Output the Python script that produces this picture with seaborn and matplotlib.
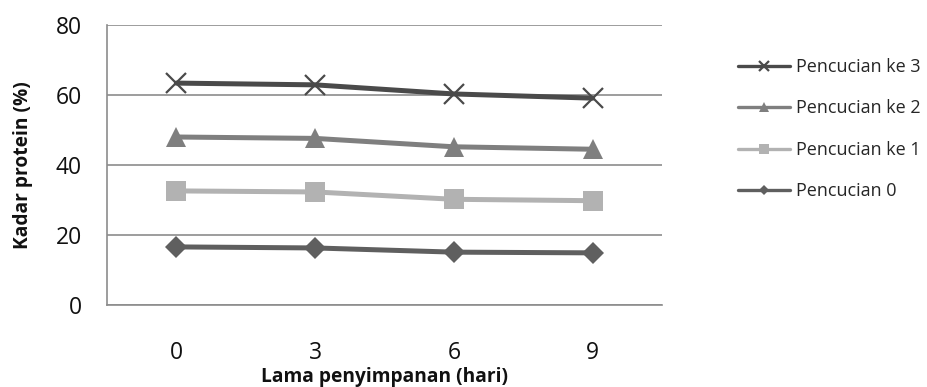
import matplotlib
matplotlib.use("Agg")
import matplotlib.pyplot as plt
import seaborn as sns
import pandas as pd

days = ["0", "3", "6", "9"]
series_names = ["Pencucian 0", "Pencucian ke 1", "Pencucian ke 2", "Pencucian ke 3"]
pencucian_0 = [16.6, 16.3, 15.1, 14.9]
pencucian_1 = [32.6, 32.3, 30.2, 29.8]
pencucian_2 = [48.0, 47.6, 45.2, 44.5]
pencucian_3 = [63.4, 62.9, 60.3, 59.1]

colors = ["#5f5f5f", "#b2b2b2", "#7f7f7f", "#4a4a4a"]
markers = ["D", "s", "^", "x"]
msizes = [11, 14, 15, 14]

rows = []
for name, vals in zip(series_names, [pencucian_0, pencucian_1, pencucian_2, pencucian_3]):
    for d, v in zip(days, vals):
        rows.append({"hari": d, "protein": v, "seri": name})
df = pd.DataFrame(rows)

sns.set_theme(style="white")
plt.rcParams["font.family"] = ["Open Sans", "DejaVu Sans"]

W, H = 927, 387
fig = plt.figure(figsize=(W / 100, H / 100), dpi=100)
ax = fig.add_axes([107 / W, 1 - 305 / H, 555 / W, 280 / H])

for name, c, m, ms in zip(series_names, colors, markers, msizes):
    sub = df[df["seri"] == name]
    sns.lineplot(data=sub, x="hari", y="protein", ax=ax, color=c, linewidth=3.6,
                 marker=m, markersize=ms, markeredgecolor=c,
                 markeredgewidth=1.6 if m == "x" else 0, label=name, sort=False)

ax.set_ylim(0, 80)
ax.set_yticks([0, 20, 40, 60, 80])
ax.set_xlim(-0.5, 3.5)
ax.yaxis.grid(True, color="#8c8c8c", linewidth=1.2)
ax.set_axisbelow(True)
for s in ["top", "right"]:
    ax.spines[s].set_visible(False)
for s in ["left", "bottom"]:
    ax.spines[s].set_color("#8c8c8c")
    ax.spines[s].set_linewidth(1.2)
ax.tick_params(axis="both", length=0, labelsize=16.5, colors="#111111")
ax.tick_params(axis="y", pad=18)
ax.tick_params(axis="x", pad=26)

ax.set_xlabel("Lama penyimpanan (hari)", fontsize=13.8, fontweight="bold", color="#111111")
ax.set_ylabel("Kadar protein (%)", fontsize=13.8, fontweight="bold", color="#111111")
ax.xaxis.set_label_coords(0.5, -0.222)
ax.yaxis.set_label_coords(-0.133, 0.5)

h, l = ax.get_legend_handles_labels()
ax.get_legend().remove()
leg = fig.legend(h[::-1], l[::-1], loc="upper left", bbox_to_anchor=(738 / W, 1 - 58 / H),
                 frameon=False, fontsize=13, handlelength=2.9, labelspacing=1.3,
                 handletextpad=0.3, borderpad=0, borderaxespad=0, markerscale=0.5)
for line in leg.get_lines():
    line.set_linewidth(2.4)

fig.savefig("out.png", dpi=100)
